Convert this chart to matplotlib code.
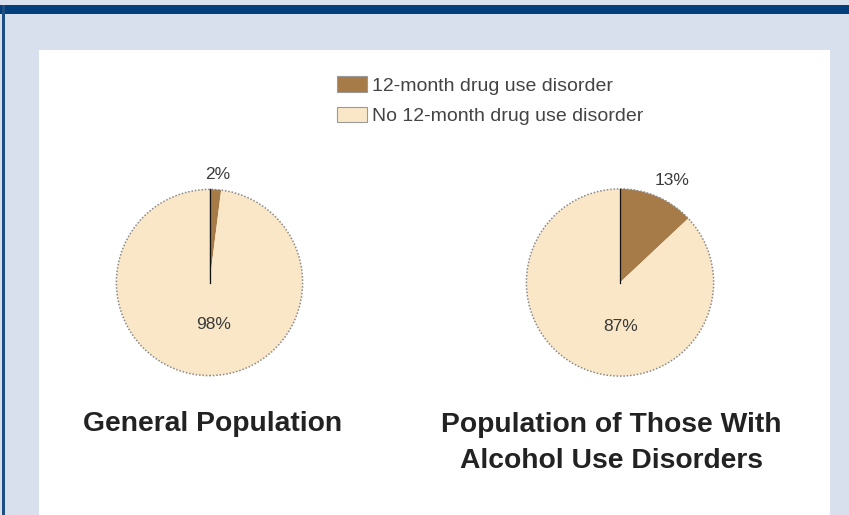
import numpy as np
import matplotlib.pyplot as plt
from matplotlib.patches import Rectangle, Circle

# data
categories = ['12-month drug use disorder', 'No 12-month drug use disorder']
general_pct = [2, 98]
alcohol_pct = [13, 87]
titles = ['General Population', 'Population of Those With\nAlcohol Use Disorders']

brown = '#a67b47'
cream = '#f9e7c8'

W, H = 849, 515
fig = plt.figure(figsize=(W / 100, H / 100), dpi=100)
fig.patch.set_facecolor('#d9e0ed')

def fx(px):
    return px / W

def fy(py):
    return 1 - py / H

# frame: top bar, left line, white panel (behind the axes)
fig.patches.append(Rectangle((0, fy(14)), 1, 9 / H, transform=fig.transFigure,
                             facecolor='#003f7c', edgecolor='none', zorder=-2))
fig.patches.append(Rectangle((fx(2), 0), 3 / W, fy(5), transform=fig.transFigure,
                             facecolor='#1f4f82', edgecolor='none', zorder=-2))
fig.patches.append(Rectangle((fx(39), 0), fx(830) - fx(39), fy(50), transform=fig.transFigure,
                             facecolor='white', edgecolor='none', zorder=-2))


def draw_pie(cx, cy, r, values, small_pos, big_pos):
    ax = fig.add_axes([fx(cx - r), fy(cy + r), 2 * r / W, 2 * r / H])
    ax.patch.set_visible(False)
    wedges, _ = ax.pie(values, colors=[brown, cream], startangle=90, counterclock=False,
                       wedgeprops=dict(edgecolor='none', linewidth=0))
    # dotted outline
    ax.add_patch(Circle((0, 0), 1, fill=False, edgecolor='#8a8a8a', linestyle=(0, (1, 1.2)),
                        linewidth=1.1))
    # thin dark line at the start of the first slice (12 o'clock)
    a = np.deg2rad(wedges[0].theta2)
    ax.plot([0, np.cos(a)], [0, np.sin(a)], color='#111111', lw=0.9)
    ax.text(small_pos[0], small_pos[1], f'{values[0]}%', ha='center', va='center',
            fontsize=12.5, color='#3a3a3a', family='Liberation Sans')
    ax.text(big_pos[0], big_pos[1], f'{values[1]}%', ha='center', va='center',
            fontsize=12.5, color='#3a3a3a', family='Liberation Sans')
    ax.set_xlim(-1.02, 1.02)
    ax.set_ylim(-1.02, 1.02)
    ax.axis('off')
    return wedges


wl = draw_pie(209.5, 282.5, 95, general_pct, (0.09, 1.16), (0.04, -0.45))
draw_pie(620, 282.5, 95.5, alcohol_pct, (0.56, 1.09), (0.01, -0.47))

fig.text(fx(213), fy(424), titles[0], ha='center', va='center', fontsize=20.3,
         fontweight='bold', color='#222222', family='Liberation Sans')
fig.text(fx(611), fy(443.5), titles[1], ha='center', va='center', fontsize=20.3,
         fontweight='bold', color='#222222', family='Liberation Sans', linespacing=1.5)

leg = fig.legend(wl, categories, loc='upper left', bbox_to_anchor=(fx(337), fy(76)),
                 frameon=False, borderpad=0, borderaxespad=0, handlelength=1.55,
                 handleheight=0.87, handletextpad=0.25, labelspacing=0.62,
                 prop={'family': 'Liberation Sans', 'size': 14})
for t in leg.get_texts():
    t.set_color('#444444')
for h in leg.legend_handles:
    h.set_edgecolor('#999999')
    h.set_linewidth(0.8)

fig.savefig('out.png', dpi=100, facecolor=fig.get_facecolor())
